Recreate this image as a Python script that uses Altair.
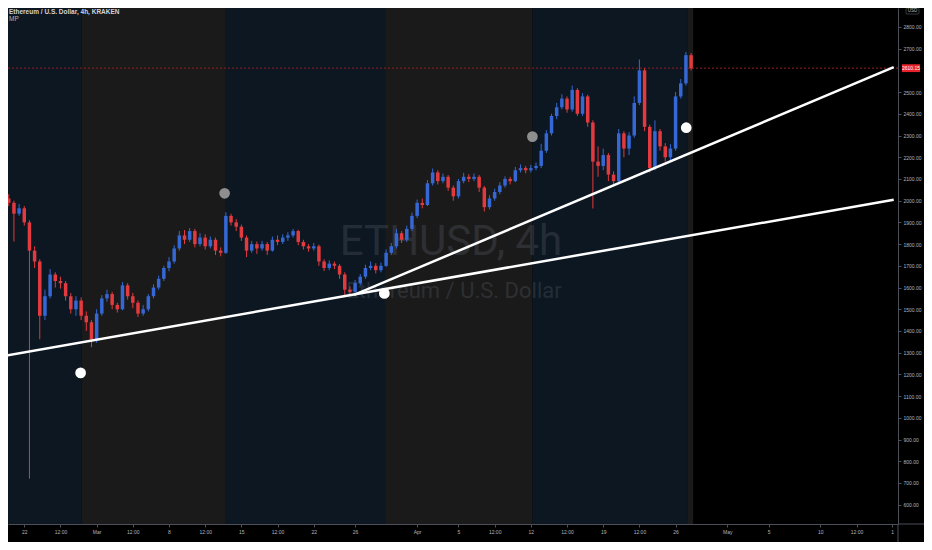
import json

import altair as alt
import pandas as pd

# plot area; the whole chart has to fit inside the 916x534 page body
W, H = 890, 516
X_DOMAIN = [-1.09, 84.03]      # days counted from Feb 22
Y_DOMAIN = [511.2, 2887.2]     # USD

BLUE = "#3568d4"
RED = "#e23a3e"
AXIS_GRAY = "#4c4f58"
LABEL_GRAY = "#b2b5be"

# two-week session shading, in days from Feb 22
band_start = [-2.0, 5.55, 19.5, 34.9, 49.15, 64.2]
band_end = [5.55, 19.5, 34.9, 49.15, 64.2, 64.7]
band_kind = ["blue", "gray", "blue", "gray", "blue", "gray"]

# ETHUSD candles, one every 12h starting Feb 20 12:00
first_day = -1.5
first_open = 2010
closes = [
    1990, 1940, 1965, 1900, 1770, 1720, 1470, 1560, 1660, 1630,
    1620, 1560, 1500, 1540, 1470, 1440, 1360, 1480, 1550, 1570,
    1520, 1500, 1610, 1560, 1530, 1480, 1500, 1560, 1600, 1640,
    1690, 1720, 1780, 1840, 1820, 1860, 1800, 1830, 1790, 1820,
    1770, 1760, 1930, 1900, 1880, 1830, 1770, 1800, 1780, 1800,
    1770, 1820, 1810, 1830, 1840, 1860, 1810, 1790, 1780, 1790,
    1720, 1690, 1710, 1700, 1660, 1590, 1580, 1620, 1650, 1690,
    1700, 1680, 1700, 1760, 1790, 1850, 1820, 1870, 1930, 1990,
    1980, 2080, 2130, 2090, 2110, 2060, 2020, 2090, 2110, 2100,
    2110, 2060, 1970, 2010, 2040, 2070, 2100, 2090, 2140, 2150,
    2140, 2150, 2160, 2230, 2310, 2390, 2430, 2470, 2420, 2510,
    2400, 2480, 2360, 2180, 2160, 2210, 2120, 2090, 2310, 2240,
    2300, 2450, 2600, 2340, 2150, 2320, 2250, 2200, 2240, 2480,
    2540, 2670, 2610,
]
highs = [
    2030, 2000, 1985, 1975, 1910, 1790, 1730, 1590, 1685, 1670,
    1650, 1630, 1575, 1560, 1555, 1490, 1450, 1500, 1565, 1590,
    1580, 1530, 1625, 1620, 1575, 1540, 1520, 1570, 1615, 1655,
    1700, 1740, 1795, 1860, 1865, 1874, 1870, 1850, 1845, 1835,
    1830, 1785, 1947, 1940, 1915, 1890, 1840, 1815, 1812, 1815,
    1810, 1835, 1840, 1845, 1855, 1870, 1866, 1820, 1800, 1805,
    1798, 1730, 1725, 1720, 1708, 1670, 1605, 1635, 1662, 1705,
    1720, 1712, 1715, 1775, 1805, 1870, 1860, 1885, 1945, 2005,
    2010, 2095, 2148, 2140, 2125, 2118, 2070, 2100, 2128, 2122,
    2125, 2118, 2068, 2025, 2055, 2085, 2112, 2110, 2155, 2167,
    2160, 2165, 2175, 2262, 2325, 2400, 2450, 2490, 2480, 2530,
    2518, 2495, 2488, 2370, 2250, 2240, 2220, 2135, 2330, 2320,
    2315, 2480, 2650, 2610, 2350, 2370, 2330, 2265, 2260, 2500,
    2560, 2685, 2680,
]
lows = [
    1975, 1812, 1930, 1885, 720, 1690, 1362, 1450, 1550, 1600,
    1595, 1540, 1480, 1470, 1450, 1400, 1325, 1345, 1470, 1535,
    1500, 1485, 1495, 1545, 1505, 1465, 1470, 1490, 1550, 1590,
    1630, 1675, 1710, 1770, 1800, 1810, 1785, 1790, 1775, 1780,
    1750, 1744, 1755, 1885, 1860, 1815, 1740, 1760, 1755, 1770,
    1750, 1765, 1795, 1800, 1815, 1830, 1795, 1775, 1765, 1770,
    1700, 1676, 1680, 1685, 1640, 1565, 1560, 1570, 1610, 1640,
    1680, 1665, 1670, 1695, 1750, 1780, 1805, 1810, 1860, 1920,
    1965, 1975, 2070, 2075, 2080, 2045, 2000, 2010, 2080, 2085,
    2090, 2040, 1950, 1960, 2000, 2030, 2060, 2075, 2085, 2130,
    2126, 2130, 2140, 2150, 2220, 2300, 2375, 2420, 2405, 2410,
    2390, 2390, 2340, 1964, 2110, 2140, 2090, 2070, 2080, 2200,
    2210, 2290, 2440, 2320, 2130, 2140, 2230, 2180, 2185, 2230,
    2470, 2530, 2600,
]
last_price = 2610.15

tick_days = [0, 3.5, 7, 10.5, 14, 17.5, 21, 24.5, 28, 32, 38, 42, 45.5,
             49, 52.5, 56, 59.5, 63, 68, 72, 77, 80.5, 83.95]
tick_labels = ["22", "12:00", "Mar", "12:00", "8", "12:00", "15", "12:00",
               "22", "26", "Apr", "5", "12:00", "12", "12:00", "19", "12:00",
               "26", "May", "5", "10", "12:00", "1"]
# 2600 sits under the last-price tag, so it is not drawn
price_ticks = [p for p in range(600, 2900, 100) if p != 2600]

# hand-drawn trend lines, end points as (day, price)
line_id = ["lower", "lower", "upper", "upper"]
line_day = [-1.85, 84.1, 31.9, 84.1]
line_price = [1286, 2004, 1566, 2615]

# pivot markers
dot_day = [5.45, 34.83, 64.03, 19.38, 49.15]
dot_price = [1207, 1573, 2336, 2034, 2295]
dot_kind = ["white", "white", "white", "gray", "gray"]

n = len(closes)
candles = pd.DataFrame({
    "d": [first_day + 0.5 * i for i in range(n)],
    "open": [first_open] + closes[:-1],
    "close": closes,
    "high": highs,
    "low": lows,
})
candles["dir"] = ["up" if c >= o else "down" for o, c in zip(candles["open"], candles["close"])]

bands = pd.DataFrame({"start": band_start, "end": band_end, "kind": band_kind})
lines = pd.DataFrame({"id": line_id, "day": line_day, "price": line_price})
dots = pd.DataFrame({"day": dot_day, "price": dot_price, "kind": dot_kind})

label_expr = f"{json.dumps(tick_labels)}[indexof({json.dumps(tick_days)}, datum.value)]"

x_scale = alt.Scale(domain=X_DOMAIN, nice=False, zero=False)
y_scale = alt.Scale(domain=Y_DOMAIN, nice=False, zero=False)
x_axis = alt.Axis(
    values=tick_days, labelExpr=label_expr, title=None, grid=False,
    labelFontSize=5, labelColor=LABEL_GRAY, labelFont="Liberation Sans",
    tickColor=AXIS_GRAY, domainColor=AXIS_GRAY, tickSize=3, labelPadding=2,
    labelOverlap=False, labelFlush=False,
)
y_axis = alt.Axis(
    orient="right", values=price_ticks, format=".2f", title=None, grid=False,
    labelFontSize=5, labelColor=LABEL_GRAY, labelFont="Liberation Sans",
    tickColor=AXIS_GRAY, domainColor=AXIS_GRAY, tickSize=3, labelPadding=2,
    labelOverlap=False, labelFlush=False,
)


def X(field):
    return alt.X(f"{field}:Q", scale=x_scale, axis=x_axis)


def Y(field):
    return alt.Y(f"{field}:Q", scale=y_scale, axis=y_axis)


dir_color = alt.Color("dir:N", scale=alt.Scale(domain=["up", "down"], range=[BLUE, RED]), legend=None)

band_layer = alt.Chart(bands).mark_rect(clip=True).encode(
    x=X("start"), x2="end", y=alt.value(0), y2=alt.value(H),
    color=alt.Color("kind:N", scale=alt.Scale(domain=["blue", "gray"], range=["#0c1721", "#1a1a1a"]), legend=None),
)

watermark = alt.Chart(pd.DataFrame({"t": ["ETHUSD, 4h"]})).mark_text(
    fontSize=42, font="Liberation Sans Narrow, Roboto, sans-serif", color="#787b86",
    opacity=0.22, align="center", baseline="alphabetic",
).encode(x=alt.value(443), y=alt.value(247), text="t:N")

watermark_sub = alt.Chart(pd.DataFrame({"t": ["Ethereum / U.S. Dollar"]})).mark_text(
    fontSize=22, font="Liberation Sans Narrow, Roboto, sans-serif", color="#787b86",
    opacity=0.22, align="center", baseline="alphabetic",
).encode(x=alt.value(446), y=alt.value(290), text="t:N")

price_line = alt.Chart(pd.DataFrame({"p": [last_price]})).mark_rule(
    color="#9b1c22", strokeWidth=1, strokeDash=[2, 2],
).encode(y=Y("p"))

wicks = alt.Chart(candles).mark_rule(clip=True, strokeWidth=1).encode(
    x=X("d"), y=Y("low"), y2="high", color=dir_color,
)
bodies = alt.Chart(candles).mark_bar(clip=True, size=3.5).encode(
    x=X("d"), y=Y("open"), y2="close", color=dir_color,
)

trend = alt.Chart(lines).mark_line(clip=True, color="white", strokeWidth=2.5).encode(
    x=X("day"), y=Y("price"), detail="id:N",
)

markers = alt.Chart(dots).mark_point(filled=True, size=115, opacity=1).encode(
    x=X("day"), y=Y("price"),
    color=alt.Color("kind:N", scale=alt.Scale(domain=["white", "gray"], range=["#ffffff", "#8e8e8e"]), legend=None),
)

label_box = alt.Chart(pd.DataFrame({"a": [last_price + 18], "b": [last_price - 18]})).mark_rect(
    color="#e8212b",
).encode(x=alt.value(W + 4), x2=alt.value(W + 22), y=Y("a"), y2="b")
label_text = alt.Chart(pd.DataFrame({"p": [last_price], "t": ["2610.15"]})).mark_text(
    fontSize=5, color="white", font="Liberation Sans", align="center", baseline="middle",
).encode(x=alt.value(W + 13), y=Y("p"), text="t:N")

# currency tag in the top right corner of the price scale
usd_box = alt.Chart(pd.DataFrame({"k": [0]})).mark_rect(
    fill="#000000", stroke="#5d606b", strokeWidth=0.6, cornerRadius=1,
).encode(x=alt.value(W + 8), x2=alt.value(W + 21), y=alt.value(0), y2=alt.value(6))
usd_text = alt.Chart(pd.DataFrame({"t": ["USD"]})).mark_text(
    fontSize=4.5, color=LABEL_GRAY, font="Liberation Sans", align="center", baseline="middle",
).encode(x=alt.value(W + 14.5), y=alt.value(3.2), text="t:N")

axis_ext = alt.Chart(pd.DataFrame({"k": [0]})).mark_rule(color=AXIS_GRAY, strokeWidth=1).encode(
    x=alt.value(W), x2=alt.value(W + 26), y=alt.value(H),
)
axis_vert = alt.Chart(pd.DataFrame({"k": [0]})).mark_rule(color=AXIS_GRAY, strokeWidth=1).encode(
    x=alt.value(W), y=alt.value(H), y2=alt.value(H + 18),
)

header = alt.Chart(pd.DataFrame({"t": ["Ethereum / U.S. Dollar, 4h, KRAKEN"]})).mark_text(
    fontSize=6.5, fontWeight="bold", color="#d1d4dc", font="Liberation Sans",
    align="left", baseline="middle",
).encode(x=alt.value(1), y=alt.value(4), text="t:N")
header_mp = alt.Chart(pd.DataFrame({"t": ["MP"]})).mark_text(
    fontSize=6.5, color="#b2b5be", font="Liberation Sans", align="left", baseline="middle",
).encode(x=alt.value(1), y=alt.value(11), text="t:N")

chart = alt.layer(
    band_layer, watermark, watermark_sub, price_line, wicks, bodies, trend, markers,
    label_box, label_text, usd_box, usd_text, axis_ext, axis_vert, header, header_mp,
).resolve_scale(color="independent").properties(
    width=W, height=H,
    background="#000000",
    padding={"left": 0, "top": 0, "right": 26, "bottom": 18},
    autosize=alt.AutoSizeParams(type="none"),
).configure_view(strokeWidth=0)

chart.save("out.html", embed_options={"renderer": "svg", "actions": False})
